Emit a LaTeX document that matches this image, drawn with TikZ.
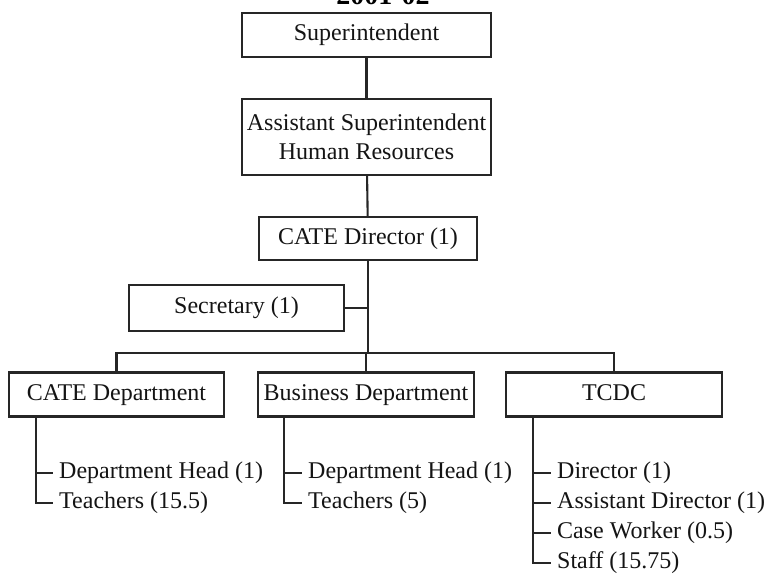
\documentclass[tikz,border=0pt]{standalone}
\usepackage{fontspec}
\setmainfont{Liberation Serif}
\usetikzlibrary{
  positioning,
  calc
}
\definecolor{ocLine}{HTML}{262626}
\definecolor{ocText}{HTML}{141414}
\tikzset{
  ocfont/.style={font=\fontsize{24}{29}\selectfont, text=ocText},
  ocbox/.style={
    ocfont, draw=ocLine, line width=2.1pt, fill=white,
    minimum height=44pt, inner sep=1pt, align=center
  },
  ocone/.style={ocbox, text height=17pt, text depth=6pt},
  ocitem/.style={ocfont, anchor=west, inner xsep=6pt, inner ysep=0pt},
  ocline/.style={draw=ocLine, line width=2.1pt},
  octitle/.style={font=\fontsize{28}{30}\selectfont\bfseries, anchor=base}
}

\begin{document}
\begin{tikzpicture}[x=1pt, y=-1pt]
  \useasboundingbox (0,0) rectangle (771,573);
  % title, cut by the top edge
  \node[octitle] (title) at (383,4) {2001-02};
  % management
  \node[ocone, minimum width=249pt] (sup) at (366.5,35) {Superintendent};
  \node[ocbox, minimum width=249pt, minimum height=76pt] (asst) at (366.5,137)
    {Assistant Superintendent\\Human Resources};
  \node[ocone, minimum width=218pt, minimum height=43pt] (dir) at (368,238.5) {CATE Director (1)};
  \node[ocone, minimum width=215pt, minimum height=46pt] (sec) at (236.5,308) {Secretary (1)};
  % departments
  \node[ocone, minimum width=215pt] (cdept) at (116.5,394.5) {CATE Department};
  \node[ocone, minimum width=216pt] (bdept) at (366,394.5) {Business Department};
  \node[ocone, minimum width=216pt] (tcdc) at (614,394.5) {TCDC};
  \coordinate (hub) at (368,353);
  \draw[ocline] (sup) -- (asst);
  \draw[ocline] (asst) -- (dir);
  \draw[ocline] (dir.south) -- (hub);
  \draw[ocline] (sec.east) -- (sec.east -| hub);
  \draw[ocline] (cdept.north) |- (hub) -| (tcdc.north);
  \draw[ocline] (bdept.north) -- (bdept.north |- hub);
  % staff lists
  \node[ocitem] (chead) at (53,473) {Department Head (1)};
  \node[ocitem] (cteach) at (53,503) {Teachers (15.5)};
  \node[ocitem] (bhead) at (302,473) {Department Head (1)};
  \node[ocitem] (bteach) at (302,503) {Teachers (5)};
  \node[ocitem] (tdir) at (551,473) {Director (1)};
  \node[ocitem] (tasst) at (551,503) {Assistant Director (1)};
  \node[ocitem] (tcase) at (551,533) {Case Worker (0.5)};
  \node[ocitem] (tstaff) at (551,563) {Staff (15.75)};
  \coordinate (ctrunk) at (cdept.south -| 36,0);
  \coordinate (btrunk) at (bdept.south -| 284,0);
  \coordinate (ttrunk) at (tcdc.south -| 533,0);
  \foreach \it in {chead,cteach} \draw[ocline] (ctrunk) |- (\it.west);
  \foreach \it in {bhead,bteach} \draw[ocline] (btrunk) |- (\it.west);
  \foreach \it in {tdir,tasst,tcase,tstaff} \draw[ocline] (ttrunk) |- (\it.west);
\end{tikzpicture}
\end{document}
